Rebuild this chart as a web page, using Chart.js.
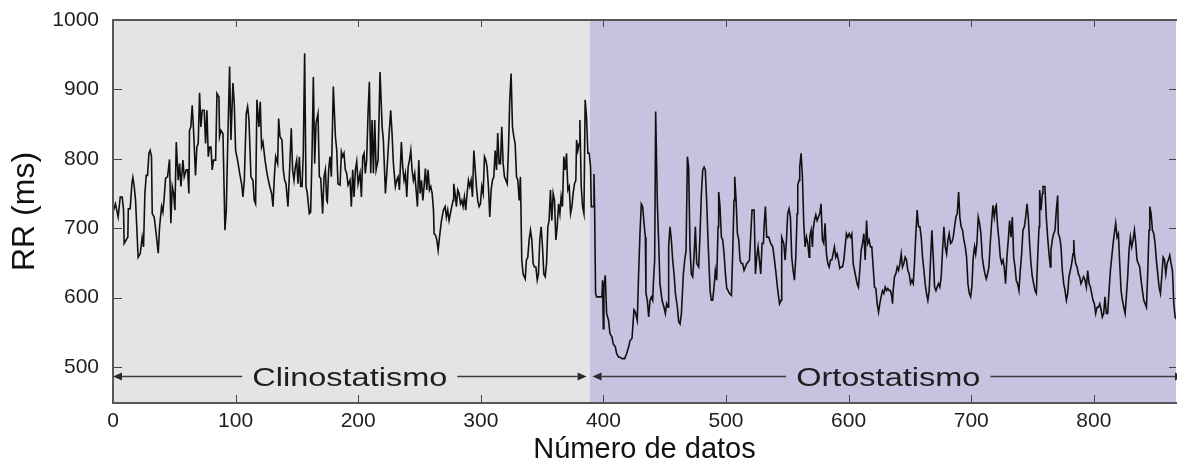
<!DOCTYPE html>
<html>
<head>
<meta charset="utf-8">
<script src="https://cdn.jsdelivr.net/npm/chart.js@4.4.1/dist/chart.umd.min.js"></script>
<style>
html,body{margin:0;padding:0;background:#ffffff;}
#wrap{width:1177px;height:463px;}
</style>
</head>
<body>
<div id="wrap"><canvas id="c" width="1177" height="463"></canvas></div>
<script>
// ---- tick labels ----
const xTickValues = [0, 100, 200, 300, 400, 500, 600, 700, 800];
const yTickValues = [500, 600, 700, 800, 900, 1000];

// ---- phases ----
const phaseLabels = ['Clinostatismo', 'Ortostatismo'];
const phaseStart = [0, 389];
const phaseEnd = [389, 867];

// ---- RR series: [número de dato, RR (ms)] ----
const clinoSamples = [
[0,723],[2.0,735],[4.2,716],[5.9,745],[7.5,745],[8.6,726],[9.1,678],[11.3,685],[12.1,687],[12.5,728],
[14.0,728],[15.4,764],[16.2,773],[17.3,760],[18.4,740],[20.5,658],[22.2,663],[23.8,687],[24.9,673],[26.0,750],
[27.1,776],[28.2,776],[29.3,808],[30.3,812],[31.4,803],[32.0,721],[33.6,716],[35.2,692],[36.9,664],[38.0,702],
[39.6,731],[40.7,723],[41.8,745],[42.9,772],[44.5,774],[46.1,799],[47.2,707],[48.3,760],[49.4,750],[50.5,726],
[51.6,824],[53.2,769],[54.3,793],[55.4,760],[57.0,798],[58.1,774],[59.7,784],[60.8,784],[61.9,750],[62.4,841],
[63.5,846],[64.6,877],[65.7,841],[67.3,776],[68.4,817],[69.5,822],[70.6,895],[71.7,846],[72.8,870],[74.4,870],
[75.5,822],[76.6,870],[77.7,803],[78.8,817],[79.9,817],[80.9,784],[82.0,798],[83.7,798],[84.8,894],[86.4,889],
[86.9,832],[88.0,841],[89.7,836],[91.3,697],[92.4,726],[93.5,817],[95.1,933],[96.2,827],[97.8,909],[98.9,880],
[100.0,812],[101.6,798],[103.3,779],[104.9,764],[106.0,745],[107.1,769],[108.7,865],[109.8,875],[110.9,856],[112.5,774],
[114.1,769],[115.2,740],[116.3,735],[117.4,885],[119.0,846],[120.1,882],[121.2,817],[122.3,824],[124.0,798],[125.6,779],
[127.8,760],[129.4,750],[130.5,731],[131.6,774],[132.7,803],[134.3,793],
[135.1,858],[136.2,832],[137.8,827],[138.9,784],[140.0,769],[141.1,764],[142.7,731],[143.8,774],[145.4,844],[146.5,784],
[147.6,769],[148.7,788],[149.8,798],[150.9,764],[152.0,803],[153.1,760],[154.2,760],[155.2,808],[156.3,952],[157.4,760],
[158.5,750],[160.1,721],[161.2,723],[162.3,803],[163.4,918],[164.5,793],[165.6,851],[167.2,865],[168.3,774],[169.4,772],
[171.0,721],[172.1,774],[173.2,784],[174.3,740],[174.8,738],[175.9,784],[177.0,803],[178.1,774],[179.7,904],[181.4,832],
[182.5,812],[183.5,764],[185.2,762],[186.3,810],[187.4,803],[188.4,808],[189.5,784],[190.6,779],[191.7,762],[193.3,769],
[194.4,731],[195.5,784],[196.6,745],[197.7,784],[198.8,796],[199.9,764],[201.5,779],[202.6,745],[203.7,803],[204.8,808],
[205.8,779],[206.9,798],[208.0,865],[209.1,911],[210.2,779],[211.3,856],[212.4,779],[213.5,856],[214.6,784],[216.2,798],
[217.8,925],[219.5,846],[220.5,827],[222.2,750],[223.3,779],[224.4,812],[225.4,841],[226.5,870],[227.6,836],[228.7,793],
[230.3,760],[231.4,769],[232.5,774],[233.6,755],[235.2,824],[236.3,788],[237.4,769],[238.5,779],[239.6,745],[240.7,788],
[241.8,798],[242.9,812],[243.9,784],[245.0,769],[246.1,779],[247.2,755],[248.3,731],[249.4,798],[250.5,750],[251.6,769],
[252.7,740],[253.7,760],[254.8,786],[255.9,755],[257.0,784],[258.1,755],[259.2,760],[260.3,750],[261.4,726],[261.9,692],
[263.0,690],[264.1,683],[265.2,668],[266.3,687],[267.9,711],[269.5,726],
[270.9,731],[271.9,716],[273.0,726],[274.1,711],[275.2,721],[276.3,731],[277.4,740],[277.9,764],[279.0,750],[280.1,731],
[281.2,755],[282.3,750],[283.4,735],[284.5,740],[285.5,731],[286.6,745],[287.7,726],[288.8,750],[289.9,769],[291.0,760],
[292.1,769],[293.2,745],[294.3,812],[295.3,788],[296.4,760],[297.5,740],[298.6,731],[299.7,735],[300.8,760],[301.9,750],
[303.0,803],[304.1,798],[305.1,788],[306.2,760],[307.3,716],[308.4,755],[309.5,769],[310.6,774],[311.7,812],[312.8,784],
[313.8,837],[314.9,793],[316.0,793],[317.1,846],[318.2,793],[319.3,774],[320.4,769],[321.5,764],[322.6,817],[323.6,885],
[324.7,923],[325.8,846],[326.9,832],[328.0,822],[329.1,774],[330.2,769],[331.3,740],[332.3,774],[333.4,654],[334.5,634],
[336.2,627],[337.2,654],[338.3,658],[339.4,683],[340.5,697],[341.6,683],[342.7,649],[343.8,644],[344.9,644],[346.0,625],
[347.0,634],[348.1,683],[349.2,702],[350.3,673],[351.4,634],[352.5,630],[353.6,649],[354.7,702],[355.7,711],[356.8,755],
[357.9,711],[359.0,750],[360.1,740],[361.2,683],[362.3,702],[363.4,735],[364.5,721],[365.5,745],[366.6,731],[367.7,803],
[368.8,784],[369.9,808],[371.0,755],[372.1,760],[373.2,721],[374.3,731],[375.3,750],[376.4,764],[377.5,769],[378.1,827],
[379.1,812],[380.2,822],[380.8,856],[381.9,760],[383.0,731],[384.1,721],[385.1,885],[386.2,861],[387.3,808],[388.4,808],
[389.5,788]
];

const ortoSamples = [
[390.1,731],[391.7,731],[392.3,778],[392.8,731],[393.6,606],[394.4,601],[397.2,601],[398.8,601],[399.3,625],[399.9,555],
[400.4,615],[401.5,632],[402.6,577],[404.2,567],[405.3,548],[407.0,543],[408.0,533],[409.7,529],[410.8,519],[412.4,514],
[413.5,514],[415.1,512],[417.3,512],[418.9,519],[420.6,529],[421.7,538],[423.3,541],[424.9,582],[426.0,579],[427.6,567],
[428.7,634],[429.8,692],[430.9,735],[432.0,731],[433.1,707],[434.2,687],[434.7,606],[435.8,596],[436.9,572],[438.0,596],
[439.1,601],[440.2,596],[440.7,620],[441.8,654],[442.6,868],[444.0,735],[445.1,678],[446.1,620],[447.8,596],[449.4,586],
[450.5,577],[451.6,591],[452.7,586],[453.2,673],[454.3,702],[455.4,683],[456.5,654],[457.6,634],[458.7,606],[460.3,586],
[461.4,565],[462.5,562],[463.6,577],[465.2,634],[466.3,654],[467.4,668],[468.5,803],[469.5,788],[470.6,673],[471.7,634],
[472.8,630],[473.9,659],[475.0,702],[476.1,649],[477.7,644],[478.8,692],[479.9,750],[481.0,784],[482.1,788],[483.1,784],
[484.2,740],[485.3,683],[487.0,610],[488.0,596],[489.1,596],[490.2,615],[491.3,639],[492.4,625],[493.5,702],[494.0,752],
[495.1,731],[496.2,687],[497.3,683],[498.4,663],[499.5,634],[500.6,613],[501.7,610],[502.7,606],[504.4,603],[505.5,668],
[506.5,740],[507.1,774],[508.2,740],[509.3,692],[510.4,683],[511.4,654],[512.5,649],[513.6,649],[514.7,639],[515.8,644],
[516.9,649],[518.0,651],[519.1,654],[520.2,692],[521.2,726],[522.9,726],[524.0,634],[525.1,659],[526.1,673],[527.2,654],
[528.3,634],[529.4,678],[530.5,678],[531.0,702],[532.1,731],[533.2,687],[534.8,687],[536.5,678],[538.1,673],[539.2,659],
[540.8,634],[541.9,615],[543.6,591],[544.9,596],[545.4,687],[547.1,678],[548.2,654],[549.3,683],[550.3,721],[551.4,728],
[552.5,716],[553.6,658],[554.7,639],[555.8,625],[556.9,658],[558.0,721],[558.5,762],[559.6,769],[560.1,788],[561.2,808],
[562.3,774],[563.4,707],[564.5,673],[565.6,687],[566.7,678],[567.8,658],[568.3,687],[569.4,697],[570.5,673],[571.0,697],
[572.1,711],[573.2,719],[574.3,711],[575.4,716],[576.5,721],[577.5,735],[578.6,683],[579.7,678],[580.8,707],[581.9,663],
[583.0,649],[584.1,644],[585.2,654],[586.3,654],[587.3,663],[588.4,673],[589.5,658],[590.6,663],[591.7,654],[592.8,642],
[593.9,644],[595.0,644],[596.1,654],[597.1,673],[598.2,692],[599.3,687],[600.4,692],[601.5,687],[602.6,692],[603.7,649],
[604.8,639],[605.8,630],[606.9,620],[608.0,615],[609.1,639],[610.2,668],[611.3,678],[612.4,692],[613.5,654],[614.6,711],
[615.6,678],[616.7,683],[617.8,673],[618.9,673],[620.0,644],[621.1,615],[622.2,613],[623.3,591],[624.4,579],[625.4,591],
[626.5,601],[627.6,610],[628.7,606],[629.8,615],[630.9,610],[632.0,613],[633.1,610],[634.1,610],[635.2,601],[635.8,591],
[636.3,610],[637.4,630],[638.5,634],[639.6,644],[640.7,639],[641.8,649],[642.9,663],[643.9,644],[645.0,649],[646.1,658],
[647.2,654],[648.3,639],[649.4,634],[650.5,620],[651.6,625],[652.7,620],[653.7,649],[654.8,692],[655.9,726],[657.0,702],
[658.1,702],[659.2,687],[660.3,658],[661.4,639],[662.4,620],[663.5,606],[664.6,596],[665.7,610],[666.8,654],[667.9,697],
[669.0,658],[670.1,615],[671.2,610],[672.2,615],[673.3,620],[674.4,615],[675.5,630],[676.6,668],[677.7,702],[678.8,673],
[679.9,663],[681.0,683],[682.0,692],[683.1,678],[684.2,680],[685.3,687],[686.4,702],[687.5,716],[688.6,721],[689.7,752],
[690.7,716],[691.8,702],[692.9,697],[694.0,683],[695.1,673],[696.2,658],[697.3,620],[698.4,606],[699.5,601],[700.5,615],
[701.6,658],[702.7,673],[703.6,663],[704.6,678],[705.7,716],[706.8,707],[707.9,692],[709.0,658],[710.1,644],[711.2,634],
[712.3,627],[713.3,634],[714.4,644],[715.5,678],[716.6,707],[717.7,733],[718.8,716],[719.9,731],[720.4,733],[721.5,702],
[722.6,683],[723.7,658],[724.8,649],[725.9,654],[726.9,644],[728.0,620],[729.1,658],[730.2,683],[731.3,711],[732.4,687],
[733.5,716],[734.6,658],[735.7,644],[736.7,625],[737.8,620],[738.9,610],[740.0,639],[741.1,663],[742.2,697],[743.3,702],
[744.4,716],[745.5,735],[746.5,716],[747.6,678],[748.7,649],[749.8,630],[750.9,620],[752.0,610],[753.1,606],[754.2,658],
[755.3,702],[755.8,755],[756.9,726],[758.0,750],[758.5,760],[760.1,760],[761.2,716],[762.3,687],[763.4,663],[764.5,644],
[765.0,668],[766.1,683],[767.2,692],[768.3,697],[769.4,726],[770.5,747],[771.0,692],[772.1,687],[773.2,673],[774.3,639],
[775.4,620],[776.5,610],[777.6,596],[778.7,606],[779.7,630],[780.8,639],[781.9,649],[783.0,663],[783.6,683],[784.1,663],
[785.2,649],[786.3,644],[787.4,634],[788.4,630],[789.5,620],[790.6,625],[791.7,630],[792.8,625],[793.9,615],[795.0,639],
[796.1,620],[797.2,615],[798.2,606],[799.3,596],[800.4,591],[801.5,577],[802.6,586],[803.7,586],[804.8,591],[805.9,582],
[806.9,572],[808.0,577],[809.1,601],[810.2,577],[811.3,577],[812.4,610],[813.5,639],[814.6,658],[815.7,678],[816.7,692],
[817.8,707],[818.9,687],[820.0,692],[821.1,649],[822.2,610],[823.3,596],[824.4,586],[825.5,577],[826.5,601],[827.6,630],
[828.7,668],[829.8,687],[830.9,673],[832.0,683],[833.1,697],[834.2,678],[835.2,654],[836.3,649],[837.4,644],[838.5,625],
[839.6,610],[840.7,596],[841.8,591],[842.9,586],[843.9,634],[845.0,697],[845.6,731],[846.7,721],[847.8,697],[848.9,692],
[849.9,678],[851.0,654],[852.1,634],[853.2,615],[854.3,606],[855.4,630],[856.5,658],[857.6,654],[858.7,634],[859.7,649],
[860.8,654],[861.9,661],[863.0,649],[864.1,639],[865.2,591],[866.3,572],[867.9,567]
];

// ---- drawing ----
const FONT = "'Liberation Sans', Arial, Helvetica, sans-serif";
Chart.defaults.font.family = FONT;

const phaseColors = ['#e4e4e4', '#c6c3e1'];

const phasePlugin = {
  id: 'phases',
  beforeDatasetsDraw(chart) {
    const {ctx, chartArea: a, scales: {x}} = chart;
    ctx.save();
    phaseStart.forEach((s, i) => {
      const x0 = Math.max(a.left, x.getPixelForValue(s));
      const x1 = Math.min(a.right + 1, x.getPixelForValue(phaseEnd[i]));
      ctx.fillStyle = phaseColors[i];
      ctx.fillRect(x0, a.top, x1 - x0, a.bottom - a.top);
    });
    ctx.restore();
  },
  afterDatasetsDraw(chart, args, opts) {
    const {ctx, chartArea: a, scales: {x, y}} = chart;
    ctx.save();
    // phase arrows with labels
    const ay = Math.round(y.getPixelForValue(opts.arrowLevel)) + 0.5;
    ctx.font = opts.labelSize + 'px ' + FONT;
    phaseLabels.forEach((label, i) => {
      const x0 = x.getPixelForValue(phaseStart[i]) + opts.tipInset[i][0];
      const x1 = x.getPixelForValue(phaseEnd[i]) - opts.tipInset[i][1];
      const w = ctx.measureText(label).width * opts.stretch;
      const cx = (x0 + x1) / 2;
      const ah = 9, gap = 10;
      ctx.strokeStyle = '#3c3c3c';
      ctx.lineWidth = 1.4;
      ctx.beginPath();
      ctx.moveTo(x0 + ah, ay); ctx.lineTo(cx - w / 2 - gap, ay);
      ctx.moveTo(cx + w / 2 + gap, ay); ctx.lineTo(x1 - ah, ay);
      ctx.stroke();
      ctx.fillStyle = '#2a2a2a';
      ctx.beginPath(); ctx.moveTo(x0, ay); ctx.lineTo(x0 + ah, ay - 4); ctx.lineTo(x0 + ah, ay + 4); ctx.closePath(); ctx.fill();
      ctx.beginPath(); ctx.moveTo(x1, ay); ctx.lineTo(x1 - ah, ay - 4); ctx.lineTo(x1 - ah, ay + 4); ctx.closePath(); ctx.fill();
      ctx.save();
      ctx.translate(cx, ay + 9);
      ctx.scale(opts.stretch, 1);
      ctx.textAlign = 'center';
      ctx.textBaseline = 'alphabetic';
      ctx.fillStyle = '#1e1e1e';
      ctx.fillText(label, 0, 0);
      ctx.restore();
    });
    // inward tick marks on all sides
    ctx.strokeStyle = '#444';
    ctx.lineWidth = 1;
    ctx.beginPath();
    xTickValues.forEach(v => {
      const px = Math.round(x.getPixelForValue(v)) + 0.5;
      ctx.moveTo(px, a.bottom); ctx.lineTo(px, a.bottom - 8);
      ctx.moveTo(px, a.top); ctx.lineTo(px, a.top + 7);
    });
    yTickValues.forEach(v => {
      const py = Math.round(y.getPixelForValue(v)) + 0.5;
      ctx.moveTo(a.left, py); ctx.lineTo(a.left + 9, py);
      ctx.moveTo(a.right, py); ctx.lineTo(a.right - 7, py);
    });
    ctx.stroke();
    // frame (top, left, bottom)
    ctx.strokeStyle = '#575757';
    ctx.lineWidth = 2;
    ctx.beginPath();
    ctx.moveTo(a.right + 2, a.top); ctx.lineTo(a.left, a.top);
    ctx.lineTo(a.left, a.bottom); ctx.lineTo(a.right + 2, a.bottom);
    ctx.stroke();
    ctx.restore();
  }
};

const series = clinoSamples.concat(ortoSamples).map(([n, rr]) => ({x: n, y: rr}));

new Chart(document.getElementById('c'), {
  type: 'line',
  data: {
    datasets: [{
      label: 'RR',
      data: series,
      borderColor: '#111111',
      borderWidth: 1.6,
      pointRadius: 0,
      tension: 0,
      fill: false
    }]
  },
  options: {
    responsive: false,
    animation: false,
    devicePixelRatio: 1,
    layout: {padding: {top: 20, right: 1, left: 0, bottom: 0}},
    plugins: {
      legend: {display: false},
      tooltip: {enabled: false},
      phases: {arrowLevel: 487, labelSize: 26, stretch: 1.25, tipInset: [[0, 3.4], [2.6, -8]]}
    },
    scales: {
      x: {
        type: 'linear',
        min: 0,
        max: 867,
        afterBuildTicks: s => { s.ticks = xTickValues.map(v => ({value: v})); },
        afterFit: s => { s.height = 60; },
        grid: {display: false},
        border: {display: false},
        ticks: {padding: -2, color: '#1e1e1e', maxRotation: 0, autoSkip: false, font: {size: 21}, callback: v => String(v)},
        title: {display: true, text: 'Número de datos', color: '#111', font: {size: 29, lineHeight: 1}, padding: {top: 0, bottom: -1}}
      },
      y: {
        type: 'linear',
        min: 448,
        max: 1000,
        afterBuildTicks: s => { s.ticks = yTickValues.map(v => ({value: v})); },
        afterFit: s => { s.width = 113; },
        grid: {display: false},
        border: {display: false},
        ticks: {padding: 6, color: '#1e1e1e', autoSkip: false, font: {size: 21}, callback: v => String(v)},
        title: {display: true, text: 'RR (ms)', color: '#111', font: {size: 32, lineHeight: 1}, padding: {top: 9, bottom: 0}}
      }
    }
  },
  plugins: [phasePlugin]
});
</script>
</body>
</html>
